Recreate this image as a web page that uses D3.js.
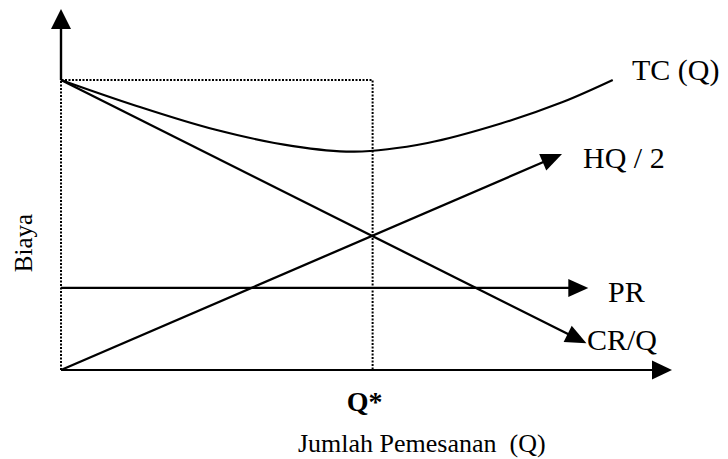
<!DOCTYPE html>
<html>
<head>
<meta charset="utf-8">
<script src="https://d3js.org/d3.v7.min.js"></script>
<style>
  body { margin: 0; background: #fff; }
  text { font-family: "Liberation Serif", "Times New Roman", serif; fill: #000; }
</style>
</head>
<body>
<script>
// data (schematic units: Q on x, cost on y)
var qStar = 51;
var boxTop = 100;
var xAxisEnd = 100;
var yAxisEnd = 124.5;
var crQ = [[0, 100], [86, 9.2]];
var hq2 = [[0, 0], [82, 74.5]];
var prLine = [[0, 28.3], [86.3, 28.3]];
var tcQ = [0, 12, 25, 38, 48, 60, 72, 82, 90.3];
var tcC = [100, 91.3, 83, 77.2, 75.3, 78.3, 85, 92.3, 100];
var curveLabels = ["TC (Q)", "HQ / 2", "PR", "CR/Q"];
var xLabel = "Jumlah Pemesanan  (Q)";
var yLabel = "Biaya";
var qStarLabel = "Q*";

var W = 728, H = 459;
var svg = d3.select("body").append("svg")
    .attr("width", W)
    .attr("height", H);

var x = d3.scaleLinear().domain([0, 100]).range([61, 672]);
var y = d3.scaleLinear().domain([0, 100]).range([370, 80]);

// arrow helper: line from a to b with filled head at b
function arrowLine(a, b, len, half, sw) {
    var x1 = x(a[0]), y1 = y(a[1]), x2 = x(b[0]), y2 = y(b[1]);
    var dx = x2 - x1, dy = y2 - y1, d = Math.sqrt(dx * dx + dy * dy);
    var ux = dx / d, uy = dy / d;
    var bx = x2 - ux * len, by = y2 - uy * len;
    svg.append("line")
        .attr("x1", x1).attr("y1", y1)
        .attr("x2", bx + ux * 2).attr("y2", by + uy * 2)
        .attr("stroke", "#000").attr("stroke-width", sw);
    svg.append("polygon")
        .attr("points", [
            [x2, y2],
            [bx - uy * half, by + ux * half],
            [bx + uy * half, by - ux * half]
        ].map(function (p) { return p.join(","); }).join(" "))
        .attr("fill", "#000");
}

// dotted guide box
var dots = svg.append("g")
    .attr("fill", "none")
    .attr("stroke", "#000")
    .attr("stroke-width", 2)
    .attr("stroke-dasharray", "2,1.5");
dots.append("path")
    .attr("d", d3.line()([[x(0), y(0)], [x(0), y(boxTop)], [x(qStar), y(boxTop)], [x(qStar), y(0)]]));

// axes
arrowLine([0, boxTop], [0, yAxisEnd], 20, 10, 2.4);
arrowLine([0, 0], [xAxisEnd, 0], 20, 9.5, 2.2);

// cost curves
arrowLine(crQ[0], crQ[1], 21, 9, 2.3);
arrowLine(hq2[0], hq2[1], 21, 9, 2.3);
arrowLine(prLine[0], prLine[1], 20, 9, 2.2);

var tcData = tcQ.map(function (q, i) { return [q, tcC[i]]; });
svg.append("path")
    .datum(tcData)
    .attr("fill", "none")
    .attr("stroke", "#000")
    .attr("stroke-width", 2.1)
    .attr("d", d3.line()
        .x(function (d) { return x(d[0]); })
        .y(function (d) { return y(d[1]); })
        .curve(d3.curveCatmullRom));

// curve labels
var labelPos = [[632, 80], [583, 168], [608, 302], [587, 350]];
svg.selectAll(".clabel")
    .data(curveLabels)
    .join("text")
    .attr("class", "clabel")
    .attr("x", function (d, i) { return labelPos[i][0]; })
    .attr("y", function (d, i) { return labelPos[i][1]; })
    .attr("font-size", 30)
    .style("white-space", "pre")
    .text(function (d) { return d; });

// Q* and axis titles
svg.append("text")
    .attr("x", x(qStar) - 8)
    .attr("y", 411)
    .attr("text-anchor", "middle")
    .attr("font-size", 28)
    .attr("font-weight", "bold")
    .text(qStarLabel);

svg.append("text")
    .attr("x", 298)
    .attr("y", 452)
    .attr("font-size", 26)
    .style("white-space", "pre")
    .text(xLabel);

svg.append("text")
    .attr("transform", "translate(32,243) rotate(-90)")
    .attr("text-anchor", "middle")
    .attr("font-size", 25)
    .text(yLabel);
</script>
</body>
</html>
